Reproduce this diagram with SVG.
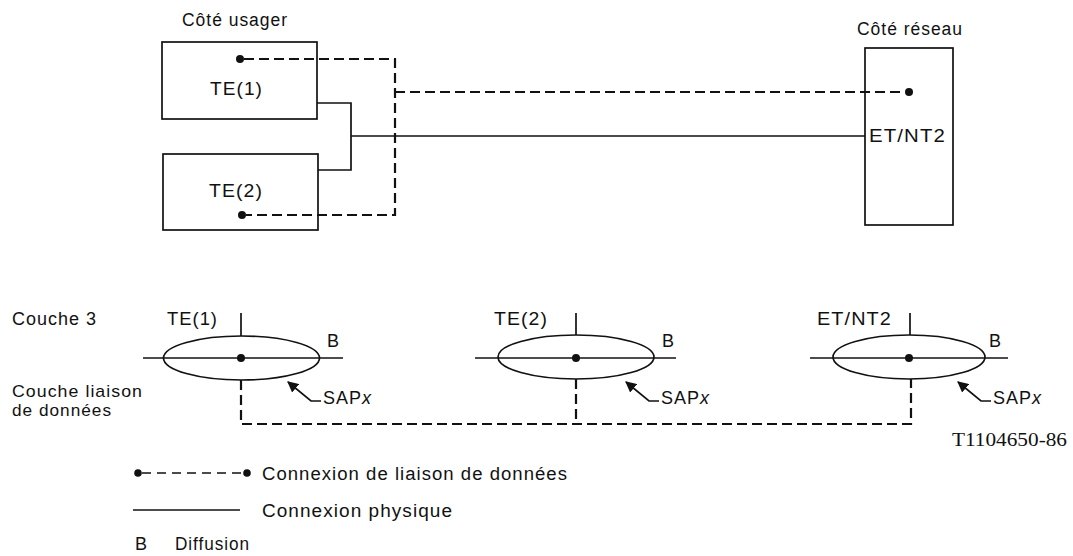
<svg xmlns="http://www.w3.org/2000/svg" width="1073" height="556" viewBox="0 0 1073 556">
<defs>
<style>
text{font-family:"Liberation Sans",Arial,sans-serif;font-size:18px;fill:#111;letter-spacing:1px}
.small{font-size:17px}
.serif{font-family:"Liberation Serif","Times New Roman",serif;font-size:19px;letter-spacing:0}
.box{fill:none;stroke:#111;stroke-width:1.7}
.solid{fill:none;stroke:#111;stroke-width:1.7}
.dash{fill:none;stroke:#111;stroke-width:2.2;stroke-dasharray:10 5}
.ell{fill:none;stroke:#111;stroke-width:1.7}
.dot{fill:#111}
</style>
<marker id="ah" viewBox="0 0 10 10" refX="9" refY="5" markerWidth="11" markerHeight="11" markerUnits="userSpaceOnUse" orient="auto">
<path d="M0,0 L10,5 L0,10 z" fill="#111"/>
</marker>
</defs>

<text x="182" y="26" textLength="106" lengthAdjust="spacingAndGlyphs">Côté usager</text>
<text x="857" y="35" textLength="106" lengthAdjust="spacingAndGlyphs">Côté réseau</text>

<g id="te1-box">
<rect class="box" x="162" y="42" width="155" height="77"/>
<text x="210" y="95" textLength="53" lengthAdjust="spacingAndGlyphs">TE(1)</text>
<circle class="dot" cx="240" cy="59" r="4"/>
</g>
<g id="te2-box">
<rect class="box" x="163" y="154" width="155" height="76"/>
<text x="209" y="197" textLength="54" lengthAdjust="spacingAndGlyphs">TE(2)</text>
<circle class="dot" cx="242" cy="215" r="4"/>
</g>
<g id="etnt2-box">
<rect class="box" x="865" y="48" width="88" height="177"/>
<text x="869" y="142" textLength="77" lengthAdjust="spacingAndGlyphs">ET/NT2</text>
<circle class="dot" cx="909" cy="92" r="4"/>
</g>

<g id="connectors-top">
<path class="dash" d="M244,59 H395 V215 H246"/>
<path class="dash" d="M395,92 H905"/>
<path class="solid" d="M317,103 H351 V170 H318 M351,136 H865"/>
</g>

<text x="12" y="325" textLength="85" lengthAdjust="spacingAndGlyphs">Couche 3</text>
<text class="small" x="12" y="397" textLength="131" lengthAdjust="spacingAndGlyphs">Couche liaison</text>
<text class="small" x="12" y="416" textLength="100" lengthAdjust="spacingAndGlyphs">de données</text>

<g id="te1-layer">
<line class="solid" x1="241" y1="313" x2="241" y2="336"/>
<ellipse class="ell" cx="241.5" cy="358" rx="78" ry="22"/>
<line class="solid" x1="143" y1="358" x2="343" y2="358"/>
<circle class="dot" cx="241" cy="358" r="4"/>
<text x="167" y="325" textLength="51" lengthAdjust="spacingAndGlyphs">TE(1)</text>
<text x="327" y="347">B</text>
<path class="solid" d="M321,401 H311 L288,382" marker-end="url(#ah)"/>
<text x="323" y="404">SAP<tspan font-style="italic">x</tspan></text>
</g>

<g id="te2-layer">
<line class="solid" x1="576" y1="313" x2="576" y2="335"/>
<ellipse class="ell" cx="576" cy="357" rx="78" ry="22"/>
<line class="solid" x1="475" y1="358" x2="676" y2="358"/>
<circle class="dot" cx="576" cy="358" r="4"/>
<text x="494" y="325" textLength="54" lengthAdjust="spacingAndGlyphs">TE(2)</text>
<text x="662" y="347">B</text>
<path class="solid" d="M659,401 H649 L626,382" marker-end="url(#ah)"/>
<text x="661" y="404">SAP<tspan font-style="italic">x</tspan></text>
</g>

<g id="etnt2-layer">
<line class="solid" x1="910" y1="313" x2="910" y2="335"/>
<ellipse class="ell" cx="909" cy="357" rx="76" ry="22"/>
<line class="solid" x1="810" y1="358" x2="1008" y2="358"/>
<circle class="dot" cx="909" cy="358" r="4"/>
<text x="817" y="325" textLength="75" lengthAdjust="spacingAndGlyphs">ET/NT2</text>
<text x="989" y="347">B</text>
<path class="solid" d="M991,401 H981 L958,382" marker-end="url(#ah)"/>
<text x="993" y="404">SAP<tspan font-style="italic">x</tspan></text>
</g>

<g id="connectors-bottom">
<path class="dash" d="M241,380 V424 H911 V379 M576,379 V424"/>
</g>

<text class="serif" x="952" y="446" textLength="115" lengthAdjust="spacingAndGlyphs">T1104650-86</text>

<g id="legend">
<circle class="dot" cx="138" cy="473" r="3.8"/>
<circle class="dot" cx="247" cy="473" r="3.8"/>
<line x1="142" y1="473" x2="243" y2="473" stroke="#111" stroke-width="1.5" stroke-dasharray="9 6"/>
<text x="262" y="480" textLength="306" lengthAdjust="spacingAndGlyphs">Connexion de liaison de données</text>
<line class="solid" x1="133" y1="510" x2="240" y2="510"/>
<text x="262" y="517" textLength="191" lengthAdjust="spacingAndGlyphs">Connexion physique</text>
<text x="135" y="550">B</text>
<text x="175" y="550" textLength="75" lengthAdjust="spacingAndGlyphs">Diffusion</text>
</g>
</svg>
